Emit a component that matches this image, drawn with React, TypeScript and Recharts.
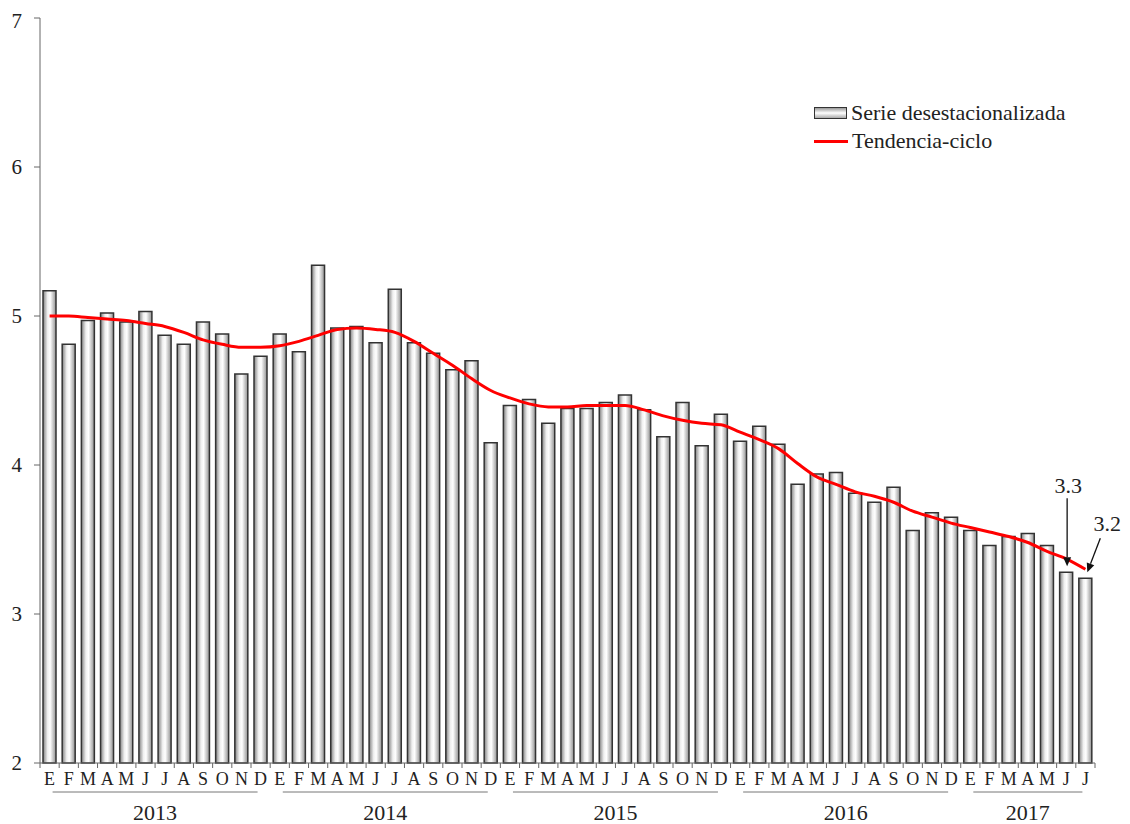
import React from 'react';
import {
  ComposedChart,
  Bar,
  Line,
  XAxis,
  YAxis,
  Legend,
  LabelList,
} from 'recharts';

const anios = ['2013', '2014', '2015', '2016', '2017'];
const mesesPorAnio = [12, 12, 12, 12, 7];
const letrasMes = ['E', 'F', 'M', 'A', 'M', 'J', 'J', 'A', 'S', 'O', 'N', 'D'];

const serieDesestacionalizada = [
  5.17, 4.81, 4.97, 5.02, 4.96, 5.03, 4.87, 4.81, 4.96, 4.88, 4.61, 4.73,
  4.88, 4.76, 5.34, 4.92, 4.93, 4.82, 5.18, 4.82, 4.75, 4.64, 4.7, 4.15,
  4.4, 4.44, 4.28, 4.38, 4.38, 4.42, 4.47, 4.37, 4.19, 4.42, 4.13, 4.34,
  4.16, 4.26, 4.14, 3.87, 3.94, 3.95, 3.81, 3.75, 3.85, 3.56, 3.68, 3.65,
  3.56, 3.46, 3.52, 3.54, 3.46, 3.28, 3.24,
];

const tendenciaCiclo = [
  5.0, 5.0, 4.99, 4.98, 4.97, 4.95, 4.93, 4.89, 4.84, 4.81, 4.79, 4.79,
  4.8, 4.83, 4.87, 4.91, 4.92, 4.91, 4.89, 4.83, 4.75, 4.67, 4.58, 4.5,
  4.45, 4.41, 4.39, 4.39, 4.4, 4.4, 4.4, 4.37, 4.33, 4.3, 4.28, 4.27,
  4.22, 4.17, 4.11, 4.01, 3.92, 3.87, 3.82, 3.79, 3.75, 3.69, 3.65, 3.61,
  3.58, 3.55, 3.52, 3.48, 3.42, 3.37, 3.3,
];

// etiquetas de los dos últimos meses
const anotaciones: Record<number, string> = { 53: '3.3', 54: '3.2' };

const yTicks = [2, 3, 4, 5, 6, 7];

const data: { clave: string; mes: string; anio: string; pos: number; serie: number; tendencia: number }[] = [];
anios.forEach((anio, a) => {
  for (let m = 0; m < mesesPorAnio[a]; m++) {
    const i = data.length;
    data.push({
      clave: `${anio}-${m}`,
      mes: letrasMes[m],
      anio,
      pos: m,
      serie: serieDesestacionalizada[i],
      tendencia: tendenciaCiclo[i],
    });
  }
});

const WIDTH = 1122;
const HEIGHT = 816;
const MARGIN = { top: 10, right: 35, left: 2, bottom: 0 };
const Y_WIDTH = 30;
const BAND = (WIDTH - MARGIN.left - MARGIN.right - Y_WIDTH) / data.length;
const FONT = '"Liberation Serif", "Times New Roman", serif';

const MonthTick = (props: any) => {
  const { x, y, index } = props;
  const d = data[index];
  if (!d) return null;
  const yearIdx = anios.indexOf(d.anio);
  const n = mesesPorAnio[yearIdx];
  return (
    <g>
      <line x1={x - BAND / 2} x2={x - BAND / 2} y1={y} y2={y + 5} stroke="#666" />
      {index === data.length - 1 && (
        <line x1={x + BAND / 2} x2={x + BAND / 2} y1={y} y2={y + 5} stroke="#666" />
      )}
      <text x={x} y={y + 22} textAnchor="middle" fontSize={18} fontFamily={FONT} fill="#222">
        {d.mes}
      </text>
      {d.pos === 0 && (
        <g>
          <line
            x1={x + 3}
            x2={x + (n - 1) * BAND - 3}
            y1={y + 29}
            y2={y + 29}
            stroke="#777"
            strokeWidth={1}
          />
          <text
            x={x + ((n - 1) * BAND) / 2}
            y={y + 57}
            textAnchor="middle"
            fontSize={22}
            fontFamily={FONT}
            fill="#222"
          >
            {d.anio}
          </text>
        </g>
      )}
    </g>
  );
};

const Flecha = ({ x1, y1, x2, y2 }: { x1: number; y1: number; x2: number; y2: number }) => {
  const ang = Math.atan2(y2 - y1, x2 - x1);
  const L = 9;
  const W = 4;
  const bx = x2 - L * Math.cos(ang);
  const by = y2 - L * Math.sin(ang);
  const px = -Math.sin(ang) * W;
  const py = Math.cos(ang) * W;
  return (
    <g>
      <line x1={x1} y1={y1} x2={bx} y2={by} stroke="#111" strokeWidth={1.3} />
      <polygon points={`${x2},${y2} ${bx + px},${by + py} ${bx - px},${by - py}`} fill="#111" />
    </g>
  );
};

const Anotacion = (props: any) => {
  const { x, y, width, index } = props;
  const texto = anotaciones[index];
  if (!texto) return null;
  const cx = x + width / 2;
  if (index === 53) {
    return (
      <g>
        <text x={cx + 2} y={y - 79} textAnchor="middle" fontSize={22} fontFamily={FONT} fill="#222">
          {texto}
        </text>
        <Flecha x1={cx + 1} y1={y - 74} x2={cx + 1} y2={y - 6} />
      </g>
    );
  }
  return (
    <g>
      <text x={cx + 22} y={y - 47} textAnchor="middle" fontSize={22} fontFamily={FONT} fill="#222">
        {texto}
      </text>
      <Flecha x1={cx + 15} y1={y - 40} x2={cx + 2} y2={y - 6} />
    </g>
  );
};

const LegendContent = () => (
  <div style={{ fontFamily: FONT, fontSize: 22, color: '#222', lineHeight: '28px' }}>
    <div style={{ display: 'flex', alignItems: 'center' }}>
      <span
        style={{
          display: 'inline-block',
          width: 31,
          height: 10,
          border: '1.5px solid #333',
          background: 'linear-gradient(#999, #fff 50%, #aaa)',
          marginRight: 4,
        }}
      />
      Serie desestacionalizada
    </div>
    <div style={{ display: 'flex', alignItems: 'center' }}>
      <span
        style={{
          display: 'inline-block',
          width: 34,
          height: 3,
          background: '#ff0000',
          marginRight: 4,
        }}
      />
      Tendencia-ciclo
    </div>
  </div>
);

export default function App() {
  return (
    <ComposedChart width={WIDTH} height={HEIGHT} data={data} margin={MARGIN}>
      <defs>
        <linearGradient id="cilindro" x1="0" y1="0" x2="1" y2="0">
          <stop offset="0%" stopColor="#808080" />
          <stop offset="35%" stopColor="#f0f0f0" />
          <stop offset="55%" stopColor="#ffffff" />
          <stop offset="100%" stopColor="#909090" />
        </linearGradient>
      </defs>
      <XAxis
        dataKey="clave"
        interval={0}
        height={61}
        tickLine={false}
        tickSize={0}
        tickMargin={0}
        stroke="#666"
        tick={<MonthTick />}
      />
      <YAxis
        domain={[2, 7]}
        ticks={yTicks}
        width={Y_WIDTH}
        tickSize={6}
        tickMargin={12}
        stroke="#666"
        tick={{ fill: '#222', fontSize: 21, fontFamily: FONT }}
      />
      <Legend
        verticalAlign="middle"
        align="center"
        layout="horizontal"
        wrapperStyle={{ top: 91, left: 806, width: 320 }}
        content={<LegendContent />}
      />
      <Bar
        dataKey="serie"
        name="Serie desestacionalizada"
        barSize={13}
        fill="url(#cilindro)"
        stroke="#333"
        strokeWidth={1.5}
        isAnimationActive={false}
      >
        <LabelList dataKey="serie" content={<Anotacion />} />
      </Bar>
      <Line
        dataKey="tendencia"
        name="Tendencia-ciclo"
        type="monotone"
        stroke="#ff0000"
        strokeWidth={3}
        dot={false}
        activeDot={false}
        isAnimationActive={false}
      />
    </ComposedChart>
  );
}
